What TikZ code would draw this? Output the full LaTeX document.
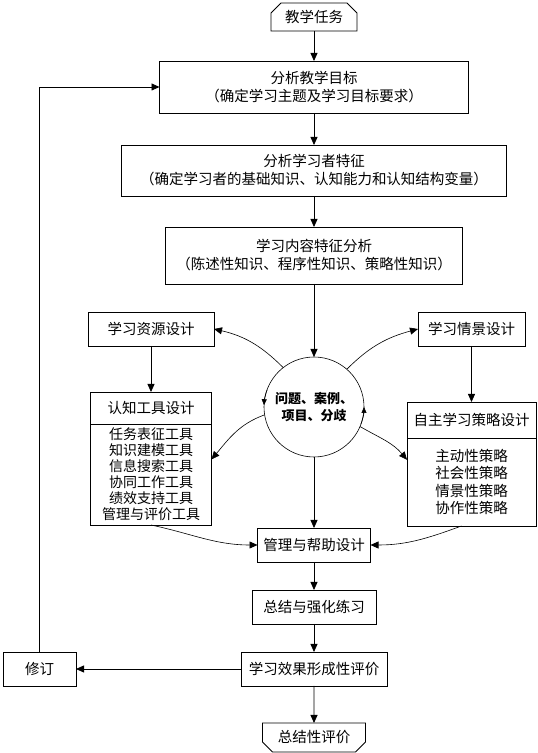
\documentclass[tikz,border=0pt]{standalone}
\usepackage{fontspec}
\setmainfont{Noto Sans CJK SC}
\usepackage{tikz}
\usetikzlibrary{shapes.geometric, shapes.misc, arrows.meta, positioning, calc}
\tikzset{
    box/.style={rectangle, draw=black, line width=0.8pt, align=center, inner sep=0pt, outer sep=0pt, font=\fontsize{14.5}{18}\selectfont},
    listbox/.style={box, font=\fontsize{14}{16}\selectfont},
    terminal/.style={chamfered rectangle, chamfered rectangle sep=5pt, draw=black, line width=0.8pt, align=center, inner sep=0pt, outer sep=0pt, font=\fontsize{14.5}{18}\selectfont},
    hub/.style={circle, draw=black, line width=0.6pt, minimum size=100pt, inner sep=0pt, outer sep=0pt, align=center, font=\fontsize{13}{17}\selectfont\bfseries},
    arrow/.style={line width=0.8pt, -{Triangle[length=8pt,width=7pt]}},
    curvearrow/.style={line width=0.6pt, -{Triangle[length=8pt,width=7pt]}},
    hubarrow/.style={line width=0.6pt, -{Triangle[length=6pt,width=5pt]}}
}
\begin{document}
\begin{tikzpicture}[x=1pt, y=1pt, node distance=62pt]

\fill[white] (0,0) rectangle (538,753);
\useasboundingbox (0,0) rectangle (538,753);

% Nodes
\node (start) [terminal, chamfered rectangle corners={north west, north east}, minimum width=86pt, minimum height=28pt] at (314,736) {教学任务};
\node (goal) [box, below of=start, yshift=-8pt, minimum width=309pt, minimum height=52pt] {分析教学目标\\（确定学习主题及学习目标要求）};
\node (learner) [box, below of=goal, yshift=-21.5pt, minimum width=385pt, minimum height=51pt] {分析学习者特征\\（确定学习者的基础知识、认知能力和认知结构变量）};
\node (content) [box, below of=learner, yshift=-23pt, minimum width=297pt, minimum height=57pt] {学习内容特征分析\\（陈述性知识、程序性知识、策略性知识）};
\node (task) [hub, below of=content, yshift=-89.5pt] {问题、案例、\\项目、分歧};
\node (resource) [box, below of=content, xshift=-163pt, yshift=-11.5pt, minimum width=126pt, minimum height=34pt] {学习资源设计};
\node (situation) [box, below of=content, xshift=157.5pt, yshift=-11.5pt, minimum width=107pt, minimum height=34pt] {学习情景设计};
\node (toolHead) [box, below of=resource, yshift=-17pt, minimum width=121pt, minimum height=32pt] {认知工具设计};
\node (toolList) [listbox, below=0pt of toolHead, minimum width=121pt, minimum height=101pt] {任务表征工具\\知识建模工具\\信息搜索工具\\协同工作工具\\绩效支持工具\\管理与评价工具};
\node (stratHead) [box, below of=situation, yshift=-29pt, minimum width=129pt, minimum height=36pt] {自主学习策略设计};
\node (stratList) [box, below=0pt of stratHead, font=\fontsize{14.5}{17.5}\selectfont, minimum width=129pt, minimum height=88pt] {主动性策略\\社会性策略\\情景性策略\\协作性策略};
\node (support) [box, below of=task, yshift=-76pt, minimum width=113pt, minimum height=34pt] {管理与帮助设计};
\node (practice) [box, below of=support, minimum width=124pt, minimum height=34pt] {总结与强化练习};
\node (formative) [box, below of=practice, minimum width=146pt, minimum height=34pt] {学习效果形成性评价};
\node (revise) [box, left of=formative, xshift=-212.5pt, minimum width=73pt, minimum height=34pt] {修订};
\node (end) [terminal, chamfered rectangle corners={south west, south east}, below of=formative, yshift=-6.5pt, minimum width=103pt, minimum height=29pt] {总结性评价};

% Arrows
\draw [arrow] (start) -- (goal);
\draw [arrow] (goal) -- (learner);
\draw [arrow] (learner) -- (content);
\draw [arrow] (content) -- (task);
\draw [arrow] (resource) -- (toolHead);
\draw [arrow] (situation) -- (stratHead);
\draw [curvearrow] (task.128) to[out=135, in=-13] (resource.east);
\draw [curvearrow] (task.49) to[out=45, in=-165] (situation.west);
\draw [curvearrow] (task.189) to[out=200, in=50] (toolList.14);
\draw [curvearrow] (task.-23) to[out=-30, in=130] (stratList.161);
\draw [hubarrow] (task.160) arc[start angle=160, end angle=178, radius=50pt];
\draw [hubarrow] (task.-20) arc[start angle=-20, end angle=0, radius=50pt];
\draw [arrow] (task) -- (support);
\draw [curvearrow] (toolList.south) to[out=-12, in=180] (support.west);
\draw [curvearrow] ([xshift=-10pt]stratList.south) to[out=200, in=0] (support.east);
\draw [arrow] (support) -- (practice);
\draw [arrow] (practice) -- (formative);
\draw [arrow] (formative) -- (end);
\draw [arrow] (formative) -- (revise);
\draw [arrow] (revise.north) |- (goal.west);

\end{tikzpicture}
\end{document}
